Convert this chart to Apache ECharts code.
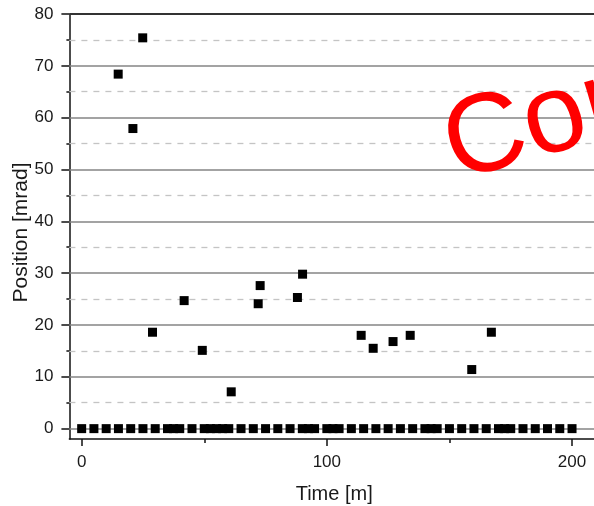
<!DOCTYPE html>
<html>
<head>
<meta charset="utf-8">
<script src="https://cdn.jsdelivr.net/npm/echarts@6/dist/echarts.min.js"></script>
<style>
  html, body { margin: 0; padding: 0; background: #ffffff; }
  #chart { width: 594px; height: 506px; }
</style>
</head>
<body>
<div id="chart"></div>
<script>
// ---- data ----
const zeroTimes = [0, 5, 10, 15, 20, 25, 30, 35, 37.5, 40, 45, 50, 52.5, 55, 57.5, 60, 65, 70, 75, 80, 85,
  90, 92.5, 95, 100, 102.5, 105, 110, 115, 120, 125, 130, 135, 140, 142.5, 145, 150, 155, 160, 165,
  170, 172.5, 175, 180, 185, 190, 195, 200];
const zeroValues = [0, 0, 0, 0, 0, 0, 0, 0, 0, 0, 0, 0, 0, 0, 0, 0, 0, 0, 0, 0, 0,
  0, 0, 0, 0, 0, 0, 0, 0, 0, 0, 0, 0, 0, 0, 0, 0, 0, 0, 0,
  0, 0, 0, 0, 0, 0, 0, 0];
const peakTimes = [14.9, 20.9, 24.9, 28.9, 41.8, 49.2, 61.0, 72.0, 72.8, 88.0, 90.1, 114.0, 118.9, 127.0, 134.0, 159.1, 167.1];
const peakValues = [68.4, 57.9, 75.4, 18.6, 24.7, 15.1, 7.1, 24.1, 27.6, 25.3, 29.8, 18.0, 15.5, 16.8, 18.0, 11.4, 18.6];

const xMajorTicks = [0, 100, 200];
const xMinorTicks = [50, 150];
const yMajorTicks = [0, 10, 20, 30, 40, 50, 60, 70, 80];
const yMinorTicks = [5, 15, 25, 35, 45, 55, 65, 75];
const yGridSolid = [0, 10, 20, 30, 40, 50, 60, 70];
const yFrameTop = [80];

const xTitle = 'Time [m]';
const yTitle = 'Position [mrad]';
const watermark = 'Cor';

// ---- chart ----
const chart = echarts.init(document.getElementById('chart'), null, { renderer: 'canvas' });
const font = 'Liberation Sans, Arial, sans-serif';
const pts = (xs, ys) => xs.map((x, i) => [x, ys[i]]);

const option = {
  backgroundColor: '#ffffff',
  animation: false,
  grid: { left: 69.4, right: -5, top: 14, bottom: 67, containLabel: false, outerBoundsMode: 'none' },
  xAxis: [
    {
      type: 'value', min: -5, max: 211,
      axisLine: { show: true, onZero: false, lineStyle: { color: '#111', width: 1.5 } },
      axisTick: { show: true, customValues: xMajorTicks, length: 7, lineStyle: { color: '#111', width: 1.5 } },
      axisLabel: { show: true, customValues: xMajorTicks, fontSize: 17, color: '#1a1a1a', fontFamily: font, margin: 15 },
      splitLine: { show: false },
      name: xTitle, nameLocation: 'middle', nameGap: 45, nameMoveOverlap: false,
      nameTextStyle: { fontSize: 20, color: '#1a1a1a', fontFamily: font }
    },
    {
      type: 'value', min: -5, max: 211, position: 'bottom', offset: 0,
      axisLine: { show: false, onZero: false },
      axisTick: { show: true, customValues: xMinorTicks, length: 4, lineStyle: { color: '#111', width: 1.5 } },
      axisLabel: { show: false },
      splitLine: { show: false }
    }
  ],
  yAxis: [
    {
      type: 'value', min: -2, max: 80,
      axisLine: { show: true, onZero: false, lineStyle: { color: '#111', width: 1.5 } },
      axisTick: { show: true, customValues: yMajorTicks, length: 8, lineStyle: { color: '#111', width: 1.5 } },
      axisLabel: { show: true, customValues: yMajorTicks, fontSize: 17, color: '#1a1a1a', fontFamily: font, margin: 16 },
      splitLine: { show: false },
      name: yTitle, nameLocation: 'middle', nameGap: 38, nameMoveOverlap: false,
      nameTextStyle: { fontSize: 21, color: '#1a1a1a', fontFamily: font, padding: [0, 12, 0, 0] }
    },
    {
      type: 'value', min: -2, max: 80, position: 'left', offset: 0,
      axisLine: { show: false, onZero: false },
      axisTick: { show: true, customValues: yMinorTicks, length: 3, lineStyle: { color: '#111', width: 1.5 } },
      axisLabel: { show: false },
      splitLine: { show: false }
    }
  ],
  series: [
    {
      type: 'scatter', data: [], z: 1, silent: true,
      markLine: {
        z: 1, silent: true, symbol: 'none', label: { show: false }, animation: false,
        lineStyle: { type: [6, 6], color: '#c4c4c4', width: 1.3 },
        data: yMinorTicks.map(v => ({ yAxis: v }))
      }
    },
    {
      type: 'scatter', data: [], z: 1, silent: true,
      markLine: {
        z: 1, silent: true, symbol: 'none', label: { show: false }, animation: false,
        lineStyle: { type: 'solid', color: '#858585', width: 1.6 },
        data: yGridSolid.map(v => ({ yAxis: v }))
      }
    },
    {
      type: 'scatter', data: [], z: 1, silent: true,
      markLine: {
        z: 1, silent: true, symbol: 'none', label: { show: false }, animation: false,
        lineStyle: { type: 'solid', color: '#333', width: 1.8 },
        data: yFrameTop.map(v => ({ yAxis: v }))
      }
    },
    {
      type: 'scatter', z: 6, symbol: 'rect', symbolSize: 9,
      itemStyle: { color: '#000', opacity: 1 },
      data: pts(zeroTimes, zeroValues)
    },
    {
      type: 'scatter', z: 6, symbol: 'rect', symbolSize: 9,
      itemStyle: { color: '#000', opacity: 1 },
      data: pts(peakTimes, peakValues)
    }
  ],
  graphic: [
    {
      type: 'text', x: 447, y: 151, rotation: 16 * Math.PI / 180, z: 100,
      style: { text: watermark, fontSize: 112, fill: '#ff0000', fontFamily: font, align: 'left', verticalAlign: 'middle' }
    }
  ]
};
chart.setOption(option);
</script>
</body>
</html>
